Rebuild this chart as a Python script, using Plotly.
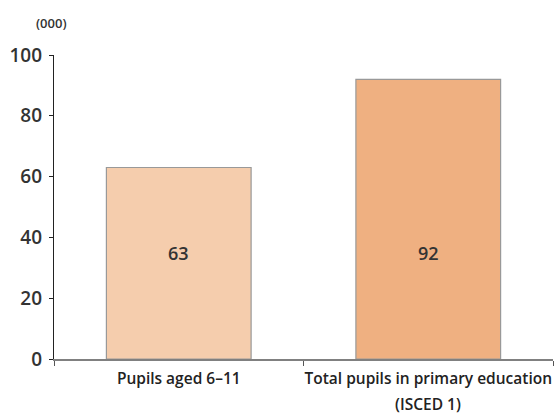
import plotly.graph_objects as go

categories = ["Pupils aged 6–11", "Total pupils in primary education\n(ISCED 1)"]
values = [63, 92]
bar_colors = ["#F5CDAD", "#EFB081"]
label_y = 35
y_ticks = [0, 20, 40, 60, 80, 100]

FONT = "Open Sans"
cat_keys = [c.split("\n")[0] for c in categories]

fig = go.Figure()
fig.add_trace(go.Bar(
    x=cat_keys, y=values,
    marker=dict(color=bar_colors, line=dict(color="#999999", width=1.2)),
    width=0.58,
    hoverinfo="skip",
))

for c, v in zip(cat_keys, values):
    fig.add_annotation(x=c, y=label_y, text=str(v), showarrow=False,
                       font=dict(size=18, color="#333333", family=FONT, weight=600))

# second line of multi-line category labels
for c, full in zip(cat_keys, categories):
    parts = full.split("\n")
    if len(parts) > 1:
        fig.add_annotation(x=c, y=0, yref="paper", yshift=-45, text=parts[1],
                           showarrow=False, yanchor="middle",
                           font=dict(size=15.5, color="#222222", family=FONT, weight=600))

fig.add_annotation(xref="paper", yref="paper", x=-0.006, y=1.0, yshift=32,
                   xanchor="center", yanchor="middle",
                   text="(000)", showarrow=False,
                   font=dict(size=13, color="#333333", family=FONT, weight=600))

fig.update_layout(
    width=555, height=416,
    margin=dict(l=54, r=2, t=55, b=57, autoexpand=False),
    plot_bgcolor="white", paper_bgcolor="white",
    showlegend=False,
    bargap=0.42,
    font=dict(family=FONT, color="#333333"),
)
fig.update_yaxes(
    range=[0, 100], tickvals=y_ticks, showgrid=False, zeroline=False,
    showline=True, linecolor="#222222", linewidth=1.2,
    ticks="outside", ticklen=4, tickcolor="#222222",
    tickfont=dict(size=19, color="#333333", family=FONT, weight=600),
    ticklabelstandoff=3, automargin=False,
)
fig.update_xaxes(
    showgrid=False, showline=True, linecolor="#808080", linewidth=1.5,
    ticks="outside", ticklen=5, tickcolor="#555555", tickson="boundaries",
    tickvals=cat_keys, ticktext=cat_keys, tickangle=0,
    tickfont=dict(size=15.5, color="#222222", family=FONT, weight=600),
    ticklabelstandoff=5, automargin=False,
)

fig.write_html("out.html")
